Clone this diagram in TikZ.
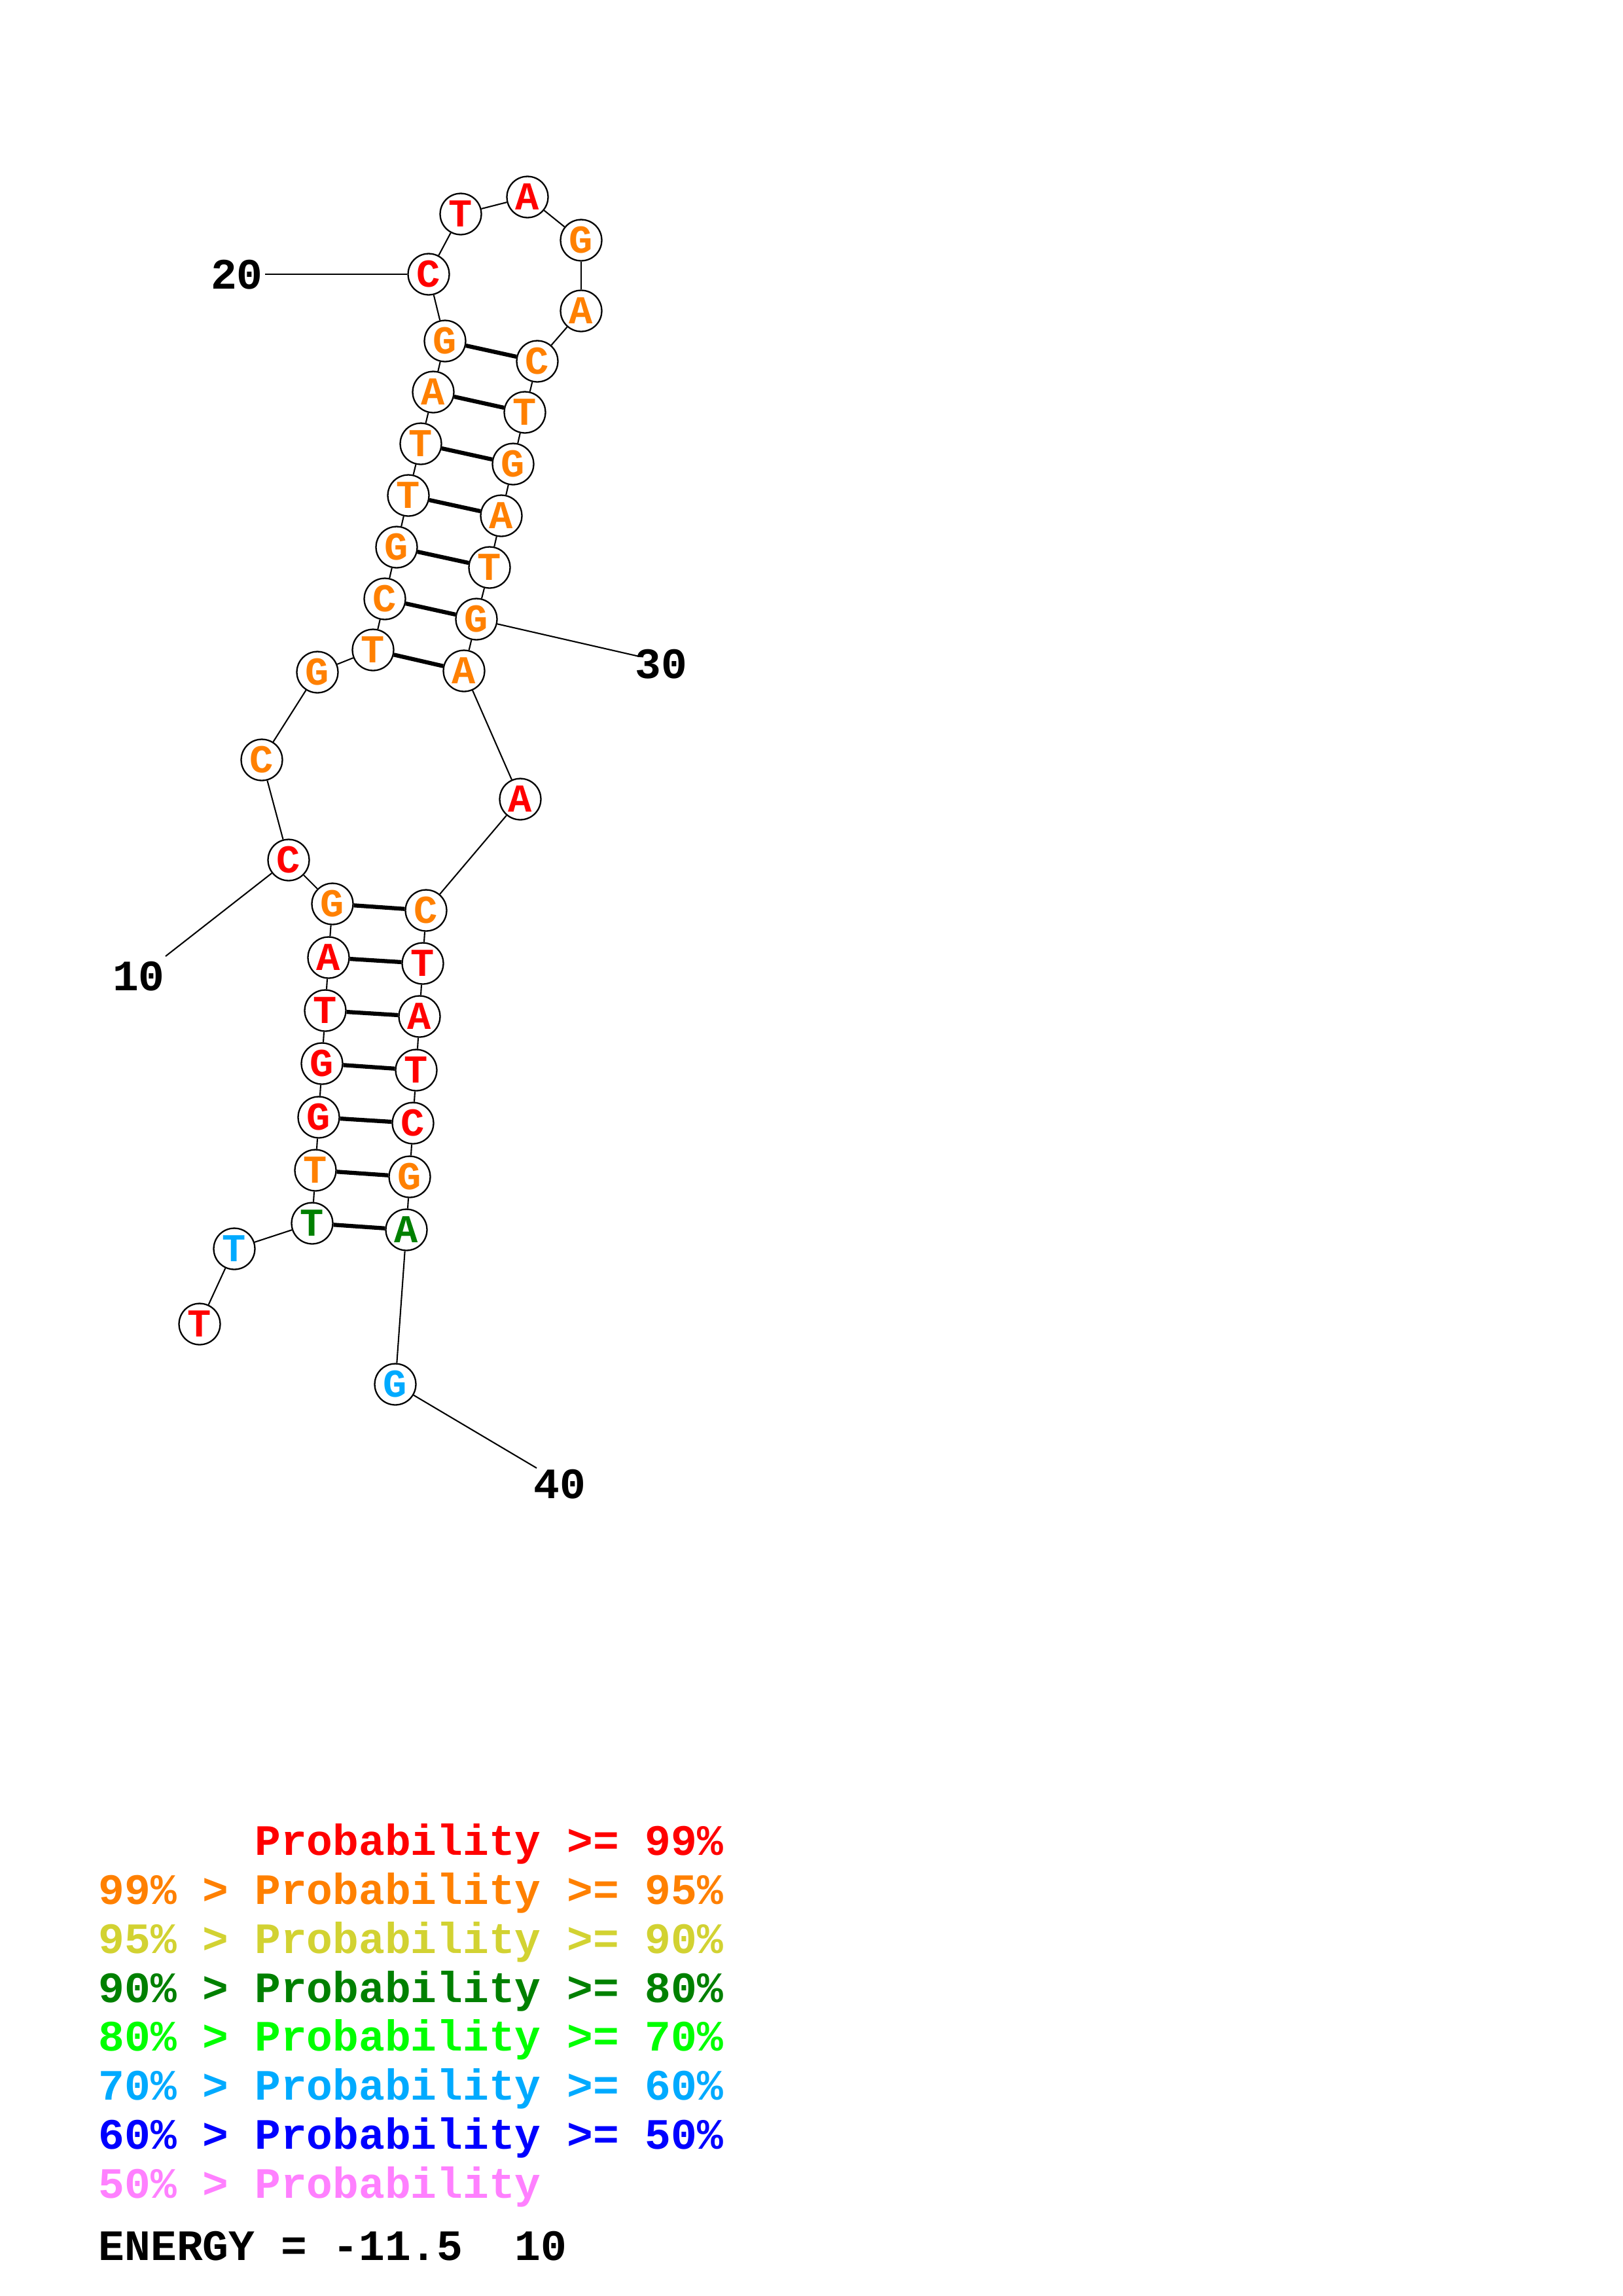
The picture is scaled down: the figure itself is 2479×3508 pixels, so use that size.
\documentclass[tikz,border=0pt]{standalone}
\usepackage{fontspec}
\newfontfamily\lmono{Liberation Mono}
\definecolor{pred}{RGB}{255,0,0}
\definecolor{porange}{RGB}{255,128,0}
\definecolor{pyellow}{RGB}{210,210,50}
\definecolor{pdgreen}{RGB}{0,128,0}
\definecolor{pgreen}{RGB}{0,255,0}
\definecolor{pcyan}{RGB}{0,170,255}
\definecolor{pblue}{RGB}{0,0,255}
\definecolor{ppink}{RGB}{255,128,255}
\tikzset{
  nt/.style={circle, draw=black, line width=0.55bp, minimum size=15.1bp, inner sep=0pt, fill=white,
    font=\lmono\bfseries\fontsize{14.5bp}{14.5bp}\selectfont},
  bb/.style={line width=0.5bp},
  bpair/.style={line width=1.5bp},
  numlbl/.style={inner sep=0pt, font=\lmono\bfseries\fontsize{15.9bp}{16bp}\selectfont},
  leg/.style={inner sep=0pt, anchor=base west, font=\lmono\bfseries\fontsize{15.9bp}{16bp}\selectfont}
}
\begin{document}
\begin{tikzpicture}[x=0.24bp, y=-0.24bp]
\useasboundingbox (0,0) rectangle (2479,3508);
% nucleotides
\node[nt, text=pred]    (n1)  at (305,2023) {T};
\node[nt, text=pcyan]   (n2)  at (358,1908) {T};
\node[nt, text=pdgreen] (n3)  at (477,1869) {T};
\node[nt, text=porange] (n4)  at (482,1788) {T};
\node[nt, text=pred]    (n5)  at (487,1707) {G};
\node[nt, text=pred]    (n6)  at (492,1625) {G};
\node[nt, text=pred]    (n7)  at (497,1544) {T};
\node[nt, text=pred]    (n8)  at (502,1463) {A};
\node[nt, text=porange] (n9)  at (508,1381) {G};
\node[nt, text=pred]    (n10) at (441,1314) {C};
\node[nt, text=porange] (n11) at (400,1161) {C};
\node[nt, text=porange] (n12) at (485,1027) {G};
\node[nt, text=porange] (n13) at (570,993) {T};
\node[nt, text=porange] (n14) at (588,915) {C};
\node[nt, text=porange] (n15) at (606,836) {G};
\node[nt, text=porange] (n16) at (624,757) {T};
\node[nt, text=porange] (n17) at (643,678) {T};
\node[nt, text=porange] (n18) at (662,599) {A};
\node[nt, text=porange] (n19) at (680,521) {G};
\node[nt, text=pred]    (n20) at (655,419) {C};
\node[nt, text=pred]    (n21) at (704,327) {T};
\node[nt, text=pred]    (n22) at (806,301) {A};
\node[nt, text=porange] (n23) at (888,367) {G};
\node[nt, text=porange] (n24) at (888,475) {A};
\node[nt, text=porange] (n25) at (821,552) {C};
\node[nt, text=porange] (n26) at (802,630) {T};
\node[nt, text=porange] (n27) at (784,709) {G};
\node[nt, text=porange] (n28) at (766,788) {A};
\node[nt, text=porange] (n29) at (748,867) {T};
\node[nt, text=porange] (n30) at (728,946) {G};
\node[nt, text=porange] (n31) at (709,1025) {A};
\node[nt, text=pred]    (n32) at (795,1221) {A};
\node[nt, text=porange] (n33) at (651,1391) {C};
\node[nt, text=pred]    (n34) at (646,1472) {T};
\node[nt, text=pred]    (n35) at (641,1553) {A};
\node[nt, text=pred]    (n36) at (636,1635) {T};
\node[nt, text=pred]    (n37) at (631,1716) {C};
\node[nt, text=porange] (n38) at (626,1798) {G};
\node[nt, text=pdgreen] (n39) at (621,1879) {A};
\node[nt, text=pcyan]   (n40) at (604,2115) {G};
% backbone
\foreach \a/\b in {1/2,2/3,3/4,4/5,5/6,6/7,7/8,8/9,9/10,10/11,11/12,12/13,13/14,14/15,15/16,16/17,17/18,18/19,19/20,20/21,21/22,22/23,23/24,24/25,25/26,26/27,27/28,28/29,29/30,30/31,31/32,32/33,33/34,34/35,35/36,36/37,37/38,38/39,39/40}
  \draw[bb] (n\a) -- (n\b);
% base pairs
\foreach \a/\b in {3/39,4/38,5/37,6/36,7/35,8/34,9/33,13/31,14/30,15/29,16/28,17/27,18/26,19/25}
  \draw[bpair] (n\a) -- (n\b);
% position labels
\node[numlbl] (l10) at (212,1492) {10};
\coordinate (c10) at (253,1461);
\draw[bb] (n10) -- (c10);
\node[numlbl] (l20) at (362,420) {20};
\coordinate (c20) at (405,419);
\draw[bb] (n20) -- (c20);
\node[numlbl] (l30) at (1010,1015) {30};
\coordinate (c30) at (977,1003);
\draw[bb] (n30) -- (c30);
\node[numlbl] (l40) at (855,2268) {40};
\coordinate (c40) at (820,2243);
\draw[bb] (n40) -- (c40);
% legend
\node[leg, text=pred]    (r1) at (150,2834) {\hphantom{99\%\ >\ }Probability >= 99\%};
\node[leg, text=porange] (r2) at (150,2909) {99\% > Probability >= 95\%};
\node[leg, text=pyellow] (r3) at (150,2984) {95\% > Probability >= 90\%};
\node[leg, text=pdgreen] (r4) at (150,3059) {90\% > Probability >= 80\%};
\node[leg, text=pgreen]  (r5) at (150,3133) {80\% > Probability >= 70\%};
\node[leg, text=pcyan]   (r6) at (150,3208) {70\% > Probability >= 60\%};
\node[leg, text=pblue]   (r7) at (150,3283) {60\% > Probability >= 50\%};
\node[leg, text=ppink]   (r8) at (150,3358) {50\% > Probability};
\node[leg, text=black]   (en) at (150,3453) {ENERGY = -11.5\ \ 10};
\end{tikzpicture}
\end{document}
